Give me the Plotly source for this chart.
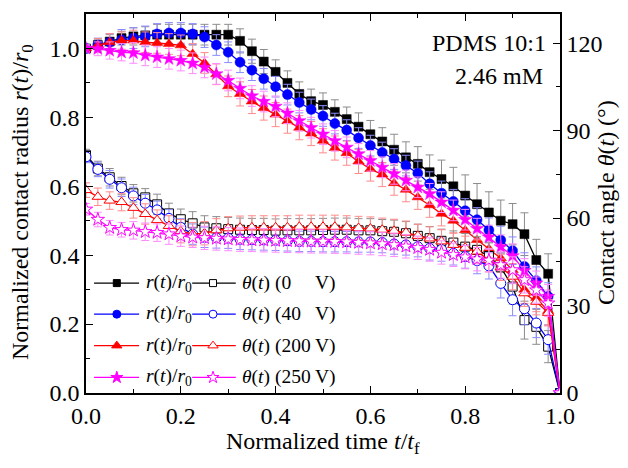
import plotly.graph_objects as go

# ---------------- data ----------------
t_norm = [0.000, 0.025, 0.050, 0.075, 0.100, 0.125, 0.150, 0.175, 0.200, 0.225,
          0.250, 0.275, 0.300, 0.325, 0.350, 0.375, 0.400, 0.425, 0.450, 0.475,
          0.500, 0.525, 0.550, 0.575, 0.600, 0.625, 0.650, 0.675, 0.700, 0.725,
          0.750, 0.775, 0.800, 0.825, 0.850, 0.875, 0.900, 0.925, 0.950, 0.975, 1.000]

r_0V = [1.000, 1.010, 1.020, 1.030, 1.035, 1.038, 1.040, 1.040, 1.040, 1.040,
        1.040, 1.040, 1.040, 1.022, 0.992, 0.962, 0.932, 0.900, 0.868, 0.847,
        0.836, 0.816, 0.795, 0.773, 0.751, 0.730, 0.706, 0.684, 0.665, 0.641,
        0.621, 0.600, 0.573, 0.548, 0.524, 0.500, 0.490, 0.461, 0.386, 0.346, 0.000]
r_40V = [1.000, 1.010, 1.018, 1.025, 1.030, 1.035, 1.042, 1.045, 1.045, 1.042,
         1.033, 1.010, 0.989, 0.960, 0.937, 0.912, 0.889, 0.866, 0.843, 0.823,
         0.804, 0.782, 0.763, 0.740, 0.718, 0.698, 0.679, 0.660, 0.638, 0.607,
         0.580, 0.556, 0.529, 0.503, 0.473, 0.444, 0.413, 0.367, 0.326, 0.280, 0.000]
r_200V = [1.000, 1.009, 1.018, 1.023, 1.023, 1.018, 1.016, 1.013, 1.009, 0.984,
          0.958, 0.925, 0.890, 0.868, 0.846, 0.827, 0.808, 0.789, 0.770, 0.753,
          0.732, 0.711, 0.696, 0.672, 0.650, 0.634, 0.609, 0.590, 0.568, 0.545,
          0.520, 0.500, 0.472, 0.444, 0.418, 0.391, 0.357, 0.300, 0.276, 0.238, 0.000]
r_250V = [1.000, 0.999, 0.994, 0.989, 0.987, 0.980, 0.975, 0.970, 0.965, 0.957,
          0.945, 0.926, 0.907, 0.884, 0.862, 0.846, 0.832, 0.812, 0.790, 0.770,
          0.751, 0.732, 0.713, 0.694, 0.674, 0.655, 0.636, 0.617, 0.597, 0.578,
          0.554, 0.530, 0.503, 0.477, 0.452, 0.424, 0.398, 0.355, 0.319, 0.280, 0.000]

r_err_0V = [0.010, 0.015, 0.020, 0.020, 0.025, 0.025, 0.030, 0.030, 0.030, 0.030,
            0.030, 0.030, 0.030, 0.035, 0.035, 0.035, 0.035, 0.035, 0.035, 0.035,
            0.035, 0.035, 0.035, 0.040, 0.040, 0.040, 0.045, 0.045, 0.050, 0.050,
            0.055, 0.055, 0.060, 0.060, 0.060, 0.060, 0.060, 0.062, 0.060, 0.058, 0.000]
r_err_40V = [0.010, 0.020, 0.025, 0.030, 0.030, 0.030, 0.030, 0.030, 0.030, 0.030,
             0.030, 0.030, 0.030, 0.030, 0.030, 0.030, 0.030, 0.030, 0.030, 0.030,
             0.030, 0.030, 0.030, 0.030, 0.030, 0.030, 0.030, 0.030, 0.035, 0.035,
             0.035, 0.035, 0.035, 0.035, 0.035, 0.040, 0.040, 0.040, 0.040, 0.040, 0.000]
r_err_200V = [0.010, 0.020, 0.025, 0.025, 0.030, 0.030, 0.030, 0.030, 0.030, 0.030,
              0.030, 0.030, 0.030, 0.035, 0.035, 0.035, 0.035, 0.035, 0.035, 0.035,
              0.035, 0.035, 0.035, 0.035, 0.035, 0.035, 0.035, 0.035, 0.035, 0.035,
              0.035, 0.035, 0.035, 0.035, 0.040, 0.040, 0.040, 0.040, 0.040, 0.040, 0.000]
r_err_250V = [0.010, 0.020, 0.025, 0.025, 0.030, 0.030, 0.030, 0.030, 0.030, 0.030,
              0.030, 0.030, 0.030, 0.030, 0.030, 0.030, 0.030, 0.030, 0.030, 0.030,
              0.030, 0.030, 0.030, 0.030, 0.030, 0.030, 0.030, 0.030, 0.030, 0.030,
              0.030, 0.030, 0.030, 0.030, 0.035, 0.035, 0.035, 0.035, 0.035, 0.035, 0.000]

theta_0V = [81.6, 77.0, 74.0, 71.0, 68.5, 67.1, 64.7, 61.6, 59.6, 58.2,
            56.8, 56.5, 56.2, 56.0, 55.9, 55.9, 55.7, 55.8, 55.8, 55.8,
            55.9, 56.0, 56.0, 55.8, 55.8, 55.5, 55.3, 54.8, 53.9, 53.1,
            52.2, 51.6, 50.2, 49.1, 47.0, 43.1, 36.5, 25.0, 22.7, 15.9, 0.0]
theta_40V = [81.0, 76.7, 73.3, 70.4, 67.6, 65.1, 62.8, 59.9, 56.8, 54.5,
             53.4, 53.2, 53.1, 52.7, 52.6, 52.5, 52.4, 52.2, 52.0, 52.0,
             51.9, 51.9, 51.9, 51.8, 51.8, 51.6, 51.1, 50.8, 50.2, 49.6,
             49.2, 47.9, 46.8, 45.4, 43.6, 37.6, 32.0, 28.9, 24.0, 18.3, 0.0]
theta_200V = [69.6, 67.3, 66.0, 65.5, 63.5, 61.4, 59.3, 57.3, 55.5, 54.5,
              54.8, 55.8, 56.5, 56.7, 56.8, 56.8, 56.8, 56.8, 57.0, 57.0,
              57.0, 57.0, 56.8, 56.6, 56.4, 56.0, 55.6, 55.0, 53.9, 53.0,
              52.0, 50.8, 49.8, 48.5, 45.6, 43.1, 39.9, 34.2, 31.3, 27.5, 0.0]
theta_250V = [63.0, 59.5, 56.7, 56.0, 55.8, 55.3, 55.0, 54.5, 53.8, 53.4,
              53.2, 53.0, 52.8, 52.6, 52.5, 52.4, 52.3, 52.2, 52.1, 52.0,
              52.0, 51.9, 51.8, 51.6, 51.4, 51.1, 50.8, 50.3, 49.8, 49.2,
              48.2, 47.4, 46.6, 45.9, 45.5, 43.9, 42.2, 38.8, 35.3, 30.8, 0.0]

theta_err_0V = [2.0, 2.5, 3.0, 3.0, 3.0, 3.0, 3.5, 3.5, 3.5, 4.0,
                4.0, 4.0, 4.0, 4.0, 4.0, 4.0, 4.0, 4.0, 4.0, 4.0,
                4.0, 4.0, 4.0, 4.0, 4.0, 4.0, 4.0, 4.0, 4.0, 4.0,
                4.0, 4.0, 4.5, 4.5, 4.5, 5.0, 6.0, 6.5, 6.0, 5.5, 0.0]
theta_err_40V = [2.0, 2.5, 3.0, 3.0, 3.0, 3.0, 3.0, 3.0, 3.0, 3.5,
                 3.5, 3.5, 3.5, 3.5, 3.5, 3.5, 3.5, 3.5, 3.5, 3.5,
                 3.5, 3.5, 3.5, 3.5, 3.5, 3.5, 3.5, 3.5, 3.5, 4.0,
                 4.0, 4.0, 4.0, 4.5, 4.5, 5.0, 5.5, 5.5, 5.0, 5.0, 0.0]
theta_err_200V = [2.5, 3.0, 3.0, 3.0, 3.5, 3.5, 3.5, 3.5, 4.0, 4.0,
                  4.0, 4.0, 4.0, 4.0, 4.0, 4.0, 4.0, 4.0, 4.0, 4.0,
                  4.0, 4.0, 4.0, 4.0, 4.0, 4.0, 4.0, 4.0, 4.0, 4.0,
                  4.0, 4.0, 4.0, 4.0, 4.0, 4.5, 4.5, 4.5, 4.5, 4.5, 0.0]
theta_err_250V = [2.0, 2.5, 2.5, 2.5, 3.0, 3.0, 3.0, 3.5, 3.5, 3.5,
                  4.0, 4.0, 4.0, 4.0, 4.0, 4.0, 4.0, 4.0, 4.0, 4.0,
                  4.0, 4.0, 4.0, 4.0, 4.0, 4.0, 4.0, 4.0, 4.0, 4.0,
                  4.0, 4.0, 4.0, 4.0, 4.0, 4.5, 4.5, 4.5, 4.5, 4.5, 0.0]

voltages = ["0", "40", "200", "250"]
r_series = [r_0V, r_40V, r_200V, r_250V]
r_errs = [r_err_0V, r_err_40V, r_err_200V, r_err_250V]
theta_series = [theta_0V, theta_40V, theta_200V, theta_250V]
theta_errs = [theta_err_0V, theta_err_40V, theta_err_200V, theta_err_250V]

# ---------------- styles ----------------
colors = ["#000000", "#0000ff", "#ff0000", "#ff00ff"]
err_colors = ["#8c8c8c", "#8a8aff", "#ff8a8a", "#ff8aff"]
symbols = ["square", "circle", "triangle-up", "star"]
msizes = [9, 10, 10, 10]
FONT = "Liberation Serif, Times New Roman, Times, serif"

fig = go.Figure()

# contact angle (open symbols) on right axis
for i in range(4):
    fig.add_trace(go.Scatter(
        x=t_norm, y=theta_series[i], yaxis="y2", mode="lines+markers",
        line=dict(color=colors[i], width=1.3),
        marker=dict(symbol=symbols[i], size=msizes[i], color="white",
                    line=dict(color=colors[i], width=1)),
        error_y=dict(type="data", array=theta_errs[i], color=err_colors[i],
                     thickness=1, width=4),
        showlegend=False))

# normalized radius (filled symbols) on left axis
for i in range(4):
    fig.add_trace(go.Scatter(
        x=t_norm, y=r_series[i], yaxis="y", mode="lines+markers",
        line=dict(color=colors[i], width=1.3),
        marker=dict(symbol=symbols[i], size=msizes[i], color=colors[i],
                    line=dict(color=colors[i], width=0.5)),
        error_y=dict(type="data", array=r_errs[i], color=err_colors[i],
                     thickness=1, width=4),
        showlegend=False))

# ---------------- custom legend (overlay axes in plot-fraction units) ----------------
leg_rows = [0.290, 0.208, 0.125, 0.041]
key1 = (0.017, 0.112, 0.065)
key2 = (0.224, 0.316, 0.268)
leg_msizes = [7, 8, 9, 9]
for i in range(4):
    yy = leg_rows[i]
    for (xa, xb, xm), fill in ((key1, colors[i]), (key2, "white")):
        fig.add_trace(go.Scatter(
            x=[xa, xb], y=[yy, yy], xaxis="x3", yaxis="y3", mode="lines",
            line=dict(color=colors[i], width=1.3), showlegend=False,
            hoverinfo="skip"))
        fig.add_trace(go.Scatter(
            x=[xm], y=[yy], xaxis="x3", yaxis="y3", mode="markers",
            marker=dict(symbol=symbols[i], size=leg_msizes[i], color=fill,
                        line=dict(color=colors[i], width=1)),
            showlegend=False, hoverinfo="skip"))

LEGFONT = dict(family=FONT, size=19.5, color="black")
annotations = []
for i in range(4):
    yy = leg_rows[i]
    annotations.append(dict(
        x=0.122, y=yy, xref="x3", yref="y3", xanchor="left", yanchor="middle",
        text="<i>r</i>(<i>t</i>)/<i>r</i><sub>0</sub>", showarrow=False,
        font=LEGFONT))
    annotations.append(dict(
        x=0.325, y=yy, xref="x3", yref="y3", xanchor="left", yanchor="middle",
        text="<i>θ</i>(<i>t</i>) (" + voltages[i], showarrow=False,
        font=LEGFONT))
    annotations.append(dict(
        x=0.532, y=yy, xref="x3", yref="y3", xanchor="right", yanchor="middle",
        text="V)", showarrow=False, font=LEGFONT))

# sample label
annotations.append(dict(x=0.975, y=0.923, xref="paper", yref="paper",
                        xanchor="right", yanchor="middle", text="PDMS 10:1",
                        showarrow=False, font=dict(family=FONT, size=24, color="black")))
annotations.append(dict(x=0.968, y=0.836, xref="paper", yref="paper",
                        xanchor="right", yanchor="middle", text="2.46 mM",
                        showarrow=False, font=dict(family=FONT, size=24, color="black")))

# axis titles
annotations.append(dict(x=0.5, y=-0.132, xref="paper", yref="paper",
                        xanchor="center", yanchor="middle",
                        text="Normalized time <i>t</i>/<i>t</i><sub>f</sub>",
                        showarrow=False, font=dict(family=FONT, size=24, color="black")))
annotations.append(dict(x=-0.135, y=0.504, xref="paper", yref="paper",
                        xanchor="center", yanchor="middle", textangle=-90,
                        text="Normalized contact radius <i>r</i>(<i>t</i>)/<i>r</i><sub>0</sub>",
                        showarrow=False, font=dict(family=FONT, size=24, color="black")))
annotations.append(dict(x=1.097, y=0.504, xref="paper", yref="paper",
                        xanchor="center", yanchor="middle", textangle=-90,
                        text="Contact angle <i>θ</i>(<i>t</i>) (°)",
                        showarrow=False, font=dict(family=FONT, size=24, color="black")))

tickfont = dict(family=FONT, size=24, color="black")
common = dict(showgrid=False, zeroline=False, showline=True, linecolor="black",
              linewidth=1.5, ticks="inside", ticklen=7, tickwidth=1.2,
              tickcolor="black", tickfont=tickfont)

fig.update_layout(
    width=628, height=468,
    margin=dict(l=86, r=68, t=14, b=75),
    paper_bgcolor="white", plot_bgcolor="white",
    font=dict(family=FONT, size=24, color="black"),
    xaxis=dict(range=[0, 1.0], tickvals=[0, 0.2, 0.4, 0.6, 0.8, 1.0],
               ticktext=["0.0", "0.2", "0.4", "0.6", "0.8", "1.0"],
               mirror="ticks",
               minor=dict(ticks="inside", ticklen=4, tickvals=[0.1, 0.3, 0.5, 0.7, 0.9],
                          tickcolor="black", tickwidth=1.2),
               **common),
    yaxis=dict(range=[0, 1.1], tickvals=[0, 0.2, 0.4, 0.6, 0.8, 1.0],
               ticktext=["0.0", "0.2", "0.4", "0.6", "0.8", "1.0"],
               minor=dict(ticks="inside", ticklen=4, tickvals=[0.1, 0.3, 0.5, 0.7, 0.9],
                          tickcolor="black", tickwidth=1.2),
               **common),
    yaxis2=dict(range=[0, 130], overlaying="y", side="right",
                tickvals=[0, 30, 60, 90, 120],
                minor=dict(ticks="inside", ticklen=4, tickvals=[15, 45, 75, 105],
                           tickcolor="black", tickwidth=1.2),
                **common),
    xaxis3=dict(range=[0, 1], overlaying="x", visible=False, anchor="y3"),
    yaxis3=dict(range=[0, 1], overlaying="y", visible=False, anchor="x3"),
    annotations=annotations,
    showlegend=False,
)

fig.write_html("out.html", config={"displayModeBar": False},
               post_script="document.body.style.margin='0px';document.body.style.padding='0px';")
